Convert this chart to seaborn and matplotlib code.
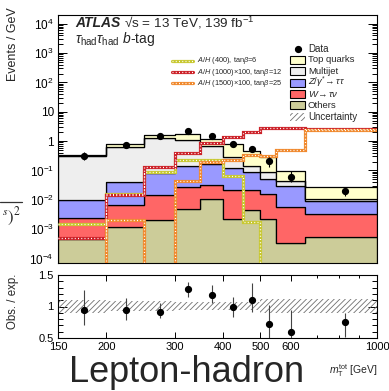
import numpy as np
import pandas as pd
import matplotlib
matplotlib.use("Agg")
import matplotlib.pyplot as plt
import matplotlib.transforms as mtransforms
from matplotlib.patches import Rectangle
from matplotlib.lines import Line2D
from matplotlib.ticker import FixedLocator, FixedFormatter, NullFormatter, LogLocator, MultipleLocator
import seaborn as sns

# ---------------- binning in m_T^tot (GeV) ----------------
bin_edges = [150, 200, 250, 300, 350, 400, 450, 500, 550, 650, 1000]

# ---------------- background predictions, events / GeV ----------------
top_quarks = [0.01, 0.17, 0.39, 0.59, 0.52, 0.53, 0.32, 0.20, 0.055, 0.016]
multijet   = [0.31, 0.58, 1.15, 0.96, 0.53, 0.155, 0.06, 0.04, 0.014, 1.5e-3]
z_tautau   = [7.8e-3, 3.4e-2, 7.0e-2, 1.13e-1, 1.39e-1, 1.04e-1, 6.5e-2, 3.4e-2, 2.5e-2, 5.5e-3]
w_taunu    = [1.9e-3, 5.2e-3, 1.3e-2, 2.2e-2, 2.0e-2, 1.9e-2, 1.8e-2, 1.4e-2, 5.3e-3, 2.8e-3]
others     = [4.7e-4, 1.2e-3, 2.1e-3, 4.9e-3, 1.08e-2, 2.2e-3, 4.4e-3, 2.2e-3, 3.5e-4, 5.3e-4]

processes = ["Top quarks", "Multijet", r"$Z/\gamma^{*}\!\rightarrow\tau\tau$",
             r"$W\!\rightarrow\tau\nu$", "Others"]
process_values = [top_quarks, multijet, z_tautau, w_taunu, others]
process_colors = ["#ffffcc", "#eeeeee", "#9999ff", "#ff6666", "#cccc99"]

# ---------------- signal hypotheses, events / GeV ----------------
sig_400  = [1.5e-3, 1.6e-2, 9.0e-2, 2.3e-1, 2.3e-1, 6.7e-2, 1.7e-3, 1e-6, 1e-6, 1e-6]
sig_1000 = [4.9e-4, 1.5e-2, 1.35e-1, 3.8e-1, 8.7e-1, 1.35, 2.1, 2.9, 2.9, 2.5]
sig_1500 = [1e-6, 2.0e-3, 1e-6, 4.3e-2, 1.9e-1, 2.3e-1, 3.4e-1, 3.2e-1, 4.8e-1, 2.4]
signal_labels = [r"$A/H$ (400), tan$\beta$=6",
                 r"$A/H$ (1000)$\times$100, tan$\beta$=12",
                 r"$A/H$ (1500)$\times$100, tan$\beta$=25"]
signal_colors = ["#c8c832", "#cc2229", "#f0892e"]
signal_values = [sig_400, sig_1000, sig_1500]

# ---------------- observed data ----------------
data_mass   = [175, 225, 275, 325, 375, 425, 475, 525, 600, 825]
data_events = [0.31, 0.74, 1.50, 2.15, 1.45, 0.80, 0.53, 0.21, 0.060, 0.020]

# observed / expected with its error bar ends
ratio      = [0.94, 0.94, 0.92, 1.27, 1.19, 0.99, 1.11, 0.72, 0.60, 0.75]
ratio_low  = [0.71, 0.79, 0.81, 1.15, 1.05, 0.83, 0.92, 0.45, 0.40, 0.52]
ratio_high = [1.26, 1.13, 1.05, 1.39, 1.34, 1.15, 1.37, 1.02, 0.94, 0.90]

# total background uncertainty band
unc_low  = [0.89, 0.93, 0.93, 0.94, 0.94, 0.94, 0.94, 0.89, 0.89, 0.89]
unc_high = [1.11, 1.08, 1.08, 1.07, 1.07, 1.07, 1.07, 1.12, 1.12, 1.12]

# ---------------- axis ticks ----------------
x_ticks = [150, 200, 300, 400, 500, 600, 1000]
x_tick_labels = ["150", "200", "300", "400", "500", "600", "1000"]
x_minor_ticks = [700, 800, 900]
y_ticks = [1e-4, 1e-3, 1e-2, 1e-1, 1, 10, 1e2, 1e3, 1e4]
y_tick_labels = [r"$10^{-4}$", r"$10^{-3}$", r"$10^{-2}$", r"$10^{-1}$", "1", "10",
                 r"$10^{2}$", r"$10^{3}$", r"$10^{4}$"]
ratio_ticks = [0.5, 1, 1.5]
ratio_tick_labels = ["0.5", "1", "1.5"]

# ---------------- style ----------------
sns.set_theme(style="ticks")
plt.rcParams["font.family"] = ["Liberation Sans", "DejaVu Sans"]
plt.rcParams["mathtext.fontset"] = "custom"
plt.rcParams["mathtext.rm"] = "Liberation Sans"
plt.rcParams["mathtext.it"] = "Liberation Sans:italic"
plt.rcParams["mathtext.bf"] = "Liberation Sans:bold"
plt.rcParams["axes.linewidth"] = 0.8
plt.rcParams["hatch.linewidth"] = 0.6
plt.rcParams["axes.edgecolor"] = "black"

W, H = 389, 391
fig = plt.figure(figsize=(W / 100, H / 100), dpi=100)
fig.patch.set_facecolor("white")
# pixel positions measured from the top-left corner
px = mtransforms.Affine2D().scale(1, -1).translate(0, H)

ax = fig.add_axes([58 / W, 1 - 263 / H, 319 / W, 248 / H])
ax2 = fig.add_axes([58 / W, 1 - 338 / H, 319 / W, 63 / H])

# ---------------- stacked backgrounds ----------------
edges = np.asarray(bin_edges, dtype=float)
centres = np.sqrt(edges[:-1] * edges[1:])
bkg = pd.DataFrame({
    "mass": np.tile(centres, len(processes)),
    "events": np.concatenate(process_values),
    "process": np.repeat(processes, len(centres)),
})
log_edges = [float(v) for v in np.log10(edges)]
sns.histplot(data=bkg, x="mass", weights="events", hue="process", hue_order=processes,
             palette=dict(zip(processes, process_colors)), multiple="stack",
             bins=log_edges, log_scale=(True, False), element="step", fill=True,
             alpha=1, edgecolor="black", linewidth=0.9, legend=False, ax=ax)
ax.set_yscale("log")

# ---------------- signals: coloured line with white dots ----------------
for vals, col in zip(signal_values, signal_colors):
    ax.stairs(vals, edges, baseline=None, color=col, lw=2.3, zorder=4)
    ax.stairs(vals, edges, baseline=None, color="white", lw=0.9,
              linestyle=(0, (0.8, 1.8)), zorder=5)

# ---------------- data ----------------
d = np.asarray(data_events)
r = np.asarray(ratio)
d_lo = d * (1 - np.asarray(ratio_low) / r)
d_hi = d * (np.asarray(ratio_high) / r - 1)
ax.errorbar(data_mass, d, yerr=[d_lo, d_hi], fmt="o", color="black", ms=4.2,
            elinewidth=0.8, capsize=0, zorder=6)

ax.set_xlim(150, 1000)
ax.set_ylim(7e-5, 2e4)
ax.set_xlabel("")
ax.set_ylabel("")

# ---------------- ratio panel ----------------
ax2.set_xscale("log")
ax2.stairs(unc_high, edges, baseline=unc_low, fill=True, facecolor="none",
           edgecolor="#707070", hatch="//////", lw=0)
ax2.errorbar(data_mass, r, yerr=[r - np.asarray(ratio_low), np.asarray(ratio_high) - r],
             fmt="o", color="black", ecolor="#444444", ms=4.2, elinewidth=0.8, capsize=0,
             zorder=5)
ax2.set_xlim(150, 1000)
ax2.set_ylim(0.5, 1.5)

# ---------------- ticks ----------------
for a in (ax, ax2):
    a.xaxis.set_major_locator(FixedLocator(x_ticks))
    a.xaxis.set_minor_locator(FixedLocator(x_minor_ticks))
    a.xaxis.set_minor_formatter(NullFormatter())
    a.tick_params(which="both", direction="in", right=True, colors="black", width=0.7)
    a.tick_params(axis="y", which="major", length=6.5)
    a.tick_params(axis="y", which="minor", length=3.5)
    a.tick_params(axis="x", which="major", length=4)
    a.tick_params(axis="x", which="minor", length=2.5)
ax.tick_params(axis="x", which="both", top=False)
ax2.tick_params(axis="x", which="both", top=True)
ax.xaxis.set_major_formatter(NullFormatter())
ax2.xaxis.set_major_formatter(FixedFormatter(x_tick_labels))
ax2.tick_params(axis="x", labelsize=8, pad=3)

ax.yaxis.set_major_locator(FixedLocator(y_ticks))
ax.yaxis.set_major_formatter(FixedFormatter(y_tick_labels))
ax.yaxis.set_minor_locator(LogLocator(base=10, subs=np.arange(2, 10), numticks=30))
ax.yaxis.set_minor_formatter(NullFormatter())
ax.tick_params(axis="y", labelsize=8.5, pad=3)

ax2.yaxis.set_major_locator(FixedLocator(ratio_ticks))
ax2.yaxis.set_major_formatter(FixedFormatter(ratio_tick_labels))
ax2.yaxis.set_minor_locator(MultipleLocator(0.1))
ax2.tick_params(axis="y", labelsize=8, pad=3)

for a in (ax, ax2):
    for s in a.spines.values():
        s.set_color("black")

# ---------------- labels and annotations ----------------
fig.text(13, 44.5, "Events / GeV", transform=px, rotation=90, ha="center", va="center",
         fontsize=9)
fig.text(13, 301.5, "Obs. / exp.", transform=px, rotation=90, ha="center", va="center",
         fontsize=8.3)
fig.text(377, 374, r"$m_{\mathrm{T}}^{\mathrm{tot}}$ [GeV]", transform=px, ha="right",
         va="baseline", fontsize=7.5)

fig.text(75, 27.3, "ATLAS", transform=px, fontsize=10, fontweight="bold", style="italic",
         va="baseline")
fig.text(124, 27.3, "\u221As = 13 TeV, 139 fb$^{-1}$", transform=px, fontsize=9.7,
         va="baseline")
fig.text(75, 43.5, r"$\tau_{\mathrm{had}}\tau_{\mathrm{had}}$ $b$-tag", transform=px,
         fontsize=10, va="baseline")

# background legend (right column)
leg_y = [48.5, 59.9, 71.2, 82.6, 93.9, 105.3, 116.6]
fig.add_artist(Line2D([297.5], [leg_y[0]], transform=px, marker="o", color="black", ms=4.2))
fig.text(308, leg_y[0], "Data", transform=px, fontsize=7, va="center")
for yy, name, col in zip(leg_y[1:6], processes, process_colors):
    fig.add_artist(Rectangle((290, yy - 4), 15, 8, transform=px, facecolor=col,
                             edgecolor="black", lw=0.8))
    fig.text(308, yy, name, transform=px, fontsize=6.8, va="center")
fig.add_artist(Rectangle((290, leg_y[6] - 4), 15, 8, transform=px, facecolor="none",
                         edgecolor="#707070", hatch="//////", lw=0))
fig.text(308, leg_y[6], "Uncertainty", transform=px, fontsize=7, va="center")

# signal legend (left column)
sig_y = [61, 72.2, 83.4]
for yy, name, col in zip(sig_y, signal_labels, signal_colors):
    fig.add_artist(Line2D([172, 193], [yy, yy], transform=px, color=col, lw=2.3))
    fig.add_artist(Line2D([172, 193], [yy, yy], transform=px, color="white", lw=0.9,
                          linestyle=(0, (0.8, 1.8))))
    fig.text(197, yy, name, transform=px, fontsize=5.3, va="center")

# slide text around the figure
fig.add_artist(Line2D([0, 22], [201.7, 201.7], transform=px, color="#333333", lw=0.9))
fig.text(1.5, 222, r"$^{s})^{2}$", transform=px, fontsize=12, va="baseline",
         math_fontfamily="stix")
fig.text(187, 381.5, "Lepton-hadron", transform=px, fontsize=26, ha="center",
         va="baseline")

fig.savefig("out.png", dpi=100)
